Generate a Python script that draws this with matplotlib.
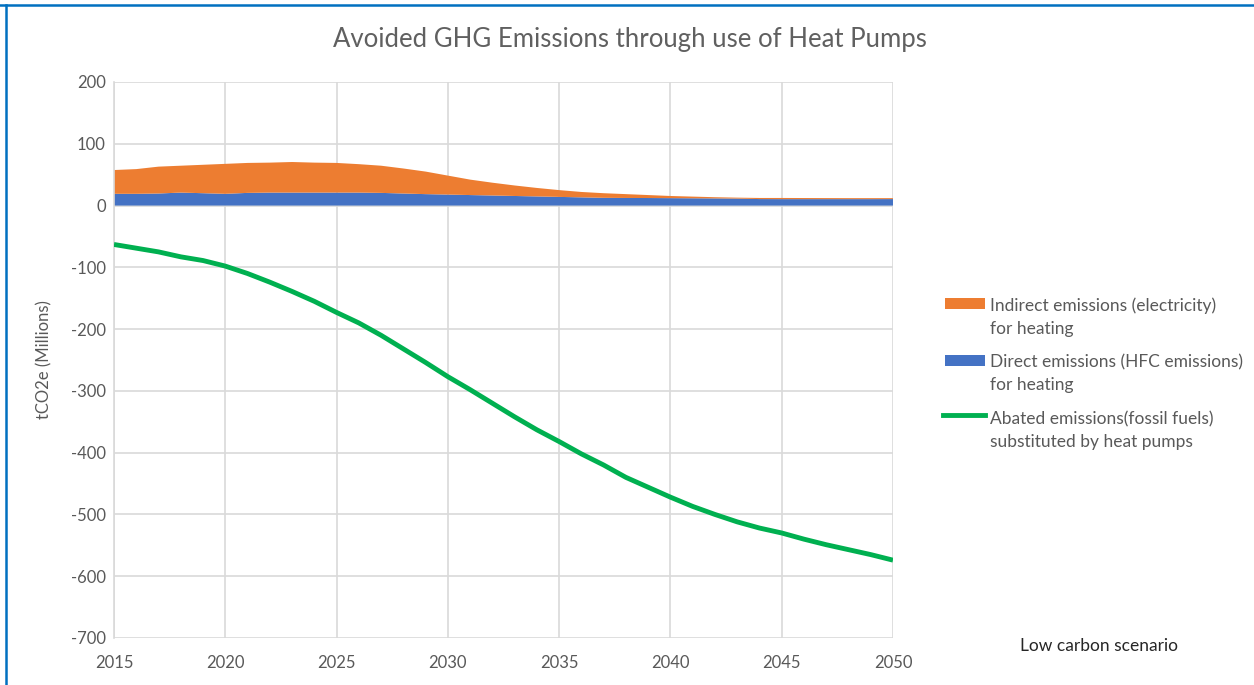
import matplotlib
matplotlib.use("Agg")
import matplotlib.pyplot as plt
from matplotlib.lines import Line2D
from matplotlib.patches import Rectangle

years = list(range(2015, 2051))
direct = [19, 19, 19.5, 21, 20, 19, 20.5, 21, 21, 21, 21, 21, 20.5, 19.5, 18.5, 17.8,
          17, 16.3, 15.5, 14.8, 14, 13.3, 12.5, 12.3, 12.2, 12, 11.8, 11.6, 11.3, 10.5,
          10.4, 10.4, 10.4, 10.4, 10.4, 10.5]
total = [57.5, 59, 63, 64.5, 66, 67.5, 69, 69.5, 70.5, 69.5, 69, 67, 64.5, 60, 55, 48.5,
         42, 37, 32.5, 28.5, 25, 22, 20, 18.5, 17, 15.5, 14.5, 13.5, 12.8, 12.3,
         12.3, 12.2, 12.1, 12, 12, 12]
indirect = [t - d for t, d in zip(total, direct)]
abated = [-63, -69, -75, -83, -89, -98, -110, -124, -139, -155, -173, -190, -210, -232,
          -254, -277, -298, -320, -342, -363, -382, -402, -420, -440, -456, -472, -487,
          -500, -512, -522, -530, -540, -549, -557, -565, -574]

yticks = list(range(-700, 201, 100))
xticks = list(range(2015, 2051, 5))

labels = ["Indirect emissions (electricity)\nfor heating",
          "Direct emissions (HFC emissions)\nfor heating",
          "Abated emissions(fossil fuels)\nsubstituted by heat pumps"]

plt.rcParams['font.family'] = ['Lato', 'DejaVu Sans']
plt.rcParams['axes.unicode_minus'] = False

W, H = 1254, 685
fig = plt.figure(figsize=(W / 100, H / 100), dpi=100)
ax = fig.add_axes([114/W, 1-638/H, (893-114)/W, (638-82)/H])

c_or = '#ed7d31'
c_bl = '#4472c4'
c_gr = '#00b050'

ax.stackplot(years, direct, indirect, colors=[c_bl, c_or], zorder=2, linewidth=0)
ax.plot(years, abated, color=c_gr, lw=3.5, zorder=3, solid_capstyle='butt')

ax.set_xlim(2015, 2050)
ax.set_ylim(-700, 200)
ax.set_xticks(xticks)
ax.set_yticks(yticks)
ax.grid(True, color='#d9d9d9', lw=1.2, zorder=0)
ax.set_axisbelow(True)
for s in ['top', 'right', 'bottom']:
    ax.spines[s].set_visible(False)
ax.spines['left'].set_color('#d9d9d9')
ax.spines['left'].set_linewidth(1.2)
ax.tick_params(length=0, labelsize=12, labelcolor='#595959', pad=6)
ax.tick_params(axis='x', pad=12)
ax.set_ylabel('tCO2e (Millions)', fontsize=12, color='#595959', labelpad=13)

fig.text(630/W, 1 - 40/H, 'Avoided GHG Emissions through use of Heat Pumps',
         ha='center', va='center', fontsize=18.5, color='#606060')

# legend, drawn entry by entry so the key sits level with the first text line
colors = [c_or, c_bl, c_gr]
line1_y = [304, 361, 418]
for lab, col, yy in zip(labels, colors, line1_y):
    if col == c_gr:
        fig.add_artist(Line2D([943/W, 985/W], [1-(yy-3)/H, 1-(yy-3)/H], color=col, lw=3.5,
                              transform=fig.transFigure))
    else:
        fig.add_artist(Rectangle((945/W, 1-(yy+5)/H), 40/W, 11/H, facecolor=col,
                                 edgecolor='none', transform=fig.transFigure))
    fig.text(990/W, 1-(yy-7)/H, lab, ha='left', va='top', fontsize=12.5,
             color='#595959', linespacing=1.55)

fig.text(1099/W, 1-646/H, 'Low carbon scenario', ha='center', va='center',
         fontsize=12.5, color='#262626')

# blue frame lines (top and left)
fig.add_artist(Line2D([0, 1], [1-5/H, 1-5/H], color='#0070c0', lw=1.8, transform=fig.transFigure))
fig.add_artist(Line2D([6/W, 6/W], [0, 1-5/H], color='#0070c0', lw=1.8, transform=fig.transFigure))

fig.savefig('out.png', dpi=100)
